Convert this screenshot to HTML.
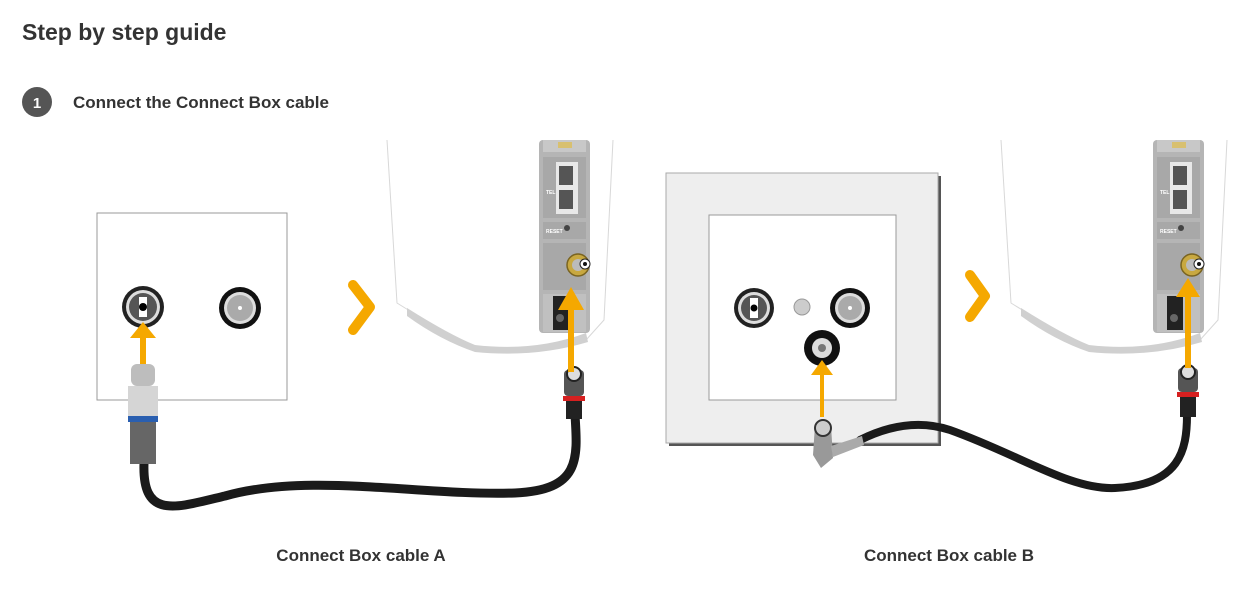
<!DOCTYPE html>
<html><head><meta charset="utf-8"><style>
html,body{margin:0;padding:0;background:#fff;width:1252px;height:593px;overflow:hidden}
svg{display:block}
</style></head><body>
<svg width="1252" height="593" viewBox="0 0 1252 593" xmlns="http://www.w3.org/2000/svg" font-family="Liberation Sans, sans-serif">
<defs>
<g id="router">
  <path d="M387 140 L397 303 Q440 330 480 350 Q535 352 586 340 L604 320 L613 140" fill="#fff" stroke="#d8d8d8" stroke-width="1"/>
  <path d="M407 308 Q450 335 475 345 Q535 352 586 333 L588 342 Q535 358 475 352 Q440 340 407 316 Z" fill="#d0d0d0"/>
  <rect x="539" y="140" width="51" height="193" rx="4" fill="#b5b5b5"/>
  <rect x="543" y="140" width="43" height="12" fill="#c8c8c8"/>
  <rect x="558" y="142" width="14" height="6" fill="#d8c070"/>
  <rect x="543" y="157" width="43" height="61" fill="#a8a8a8"/>
  <text x="546" y="194" font-size="5" fill="#fff" font-weight="bold">TEL</text>
  <rect x="556" y="162" width="22" height="52" fill="#e8e8e8"/>
  <rect x="559" y="166" width="14" height="19" fill="#555"/>
  <rect x="559" y="190" width="14" height="19" fill="#555"/>
  <rect x="543" y="222" width="43" height="17" fill="#a8a8a8"/>
  <text x="546" y="233" font-size="5" fill="#fff" font-weight="bold">RESET</text>
  <circle cx="567" cy="228" r="3" fill="#444"/>
  <rect x="543" y="243" width="43" height="47" fill="#a8a8a8"/>
  <circle cx="578" cy="265" r="11" fill="#c8a840" stroke="#7a6420" stroke-width="1.5"/>
  <circle cx="578" cy="265" r="6" fill="#bbb"/>
  <circle cx="585" cy="264" r="5" fill="#fff" stroke="#222" stroke-width="1"/>
  <circle cx="585" cy="264" r="2" fill="#111"/>
  <rect x="543" y="294" width="43" height="38" fill="#c0c0c0"/>
  <rect x="553" y="296" width="16" height="34" fill="#222"/>
  <circle cx="560" cy="318" r="4" fill="#666"/>
</g>
</defs>

<text x="22" y="40" font-size="23" font-weight="bold" fill="#333">Step by step guide</text>
<circle cx="37" cy="102" r="15" fill="#555"/>
<text x="37" y="108" font-size="15" font-weight="bold" fill="#fff" text-anchor="middle">1</text>
<text x="73" y="108" font-size="17" font-weight="bold" fill="#333">Connect the Connect Box cable</text>

<!-- LEFT -->
<rect x="97" y="213" width="190" height="187" fill="#fff" stroke="#999" stroke-width="1"/>
<circle cx="143" cy="307" r="21" fill="#222"/><circle cx="143" cy="307" r="17" fill="#ddd"/><circle cx="143" cy="307" r="14" fill="#555"/>
<rect x="139" y="297" width="8" height="20" fill="#fff"/><circle cx="143" cy="307" r="4" fill="#000"/>
<circle cx="240" cy="308" r="21" fill="#111"/><circle cx="240" cy="308" r="16" fill="#ddd"/><circle cx="240" cy="308" r="13" fill="#aaa"/><circle cx="240" cy="308" r="2" fill="#fff"/>
<path d="M144 463 C142 520 175 508 225 496 C310 472 420 496 515 493 C580 490 578 460 575 415" fill="none" stroke="#1a1a1a" stroke-width="9" stroke-linecap="round"/>
<rect x="131" y="364" width="24" height="22" rx="6" fill="#bdbdbd"/>
<rect x="128" y="386" width="30" height="30" fill="#d5d5d5"/>
<rect x="128" y="416" width="30" height="6" fill="#2a5fb0"/>
<rect x="130" y="422" width="26" height="42" fill="#666"/>
<path d="M140 364 L140 338 L130 338 L143 322 L156 338 L146 338 L146 364 Z" fill="#f5a800"/>
<use href="#router"/>
<rect x="564" y="370" width="20" height="26" rx="4" fill="#555"/>
<circle cx="574" cy="374" r="7" fill="#ddd" stroke="#222" stroke-width="2"/>
<rect x="563" y="396" width="22" height="5" fill="#d62020"/>
<rect x="566" y="401" width="16" height="18" fill="#222"/>
<path d="M568 372 L568 310 L558 310 L571 287 L584 310 L574 310 L574 372 Z" fill="#f5a800"/>
<path d="M353 285 L370 307 L353 330" fill="none" stroke="#f5a800" stroke-width="10" stroke-linecap="round" stroke-linejoin="round"/>

<!-- RIGHT -->
<rect x="669" y="176" width="272" height="270" fill="#555"/>
<rect x="666" y="173" width="272" height="270" fill="#eee" stroke="#aaa" stroke-width="1"/>
<rect x="709" y="215" width="187" height="185" fill="#fff" stroke="#999" stroke-width="1"/>
<circle cx="754" cy="308" r="20" fill="#222"/><circle cx="754" cy="308" r="16" fill="#ddd"/><circle cx="754" cy="308" r="13" fill="#555"/>
<rect x="750" y="298" width="8" height="20" fill="#fff"/><circle cx="754" cy="308" r="3.5" fill="#000"/>
<circle cx="802" cy="307" r="8" fill="#ccc" stroke="#999"/>
<circle cx="850" cy="308" r="20" fill="#111"/><circle cx="850" cy="308" r="15" fill="#ddd"/><circle cx="850" cy="308" r="12" fill="#aaa"/><circle cx="850" cy="308" r="2" fill="#fff"/>
<circle cx="822" cy="348" r="18" fill="#111"/><circle cx="822" cy="348" r="10" fill="#ddd"/><circle cx="822" cy="348" r="4" fill="#777"/>
<path d="M860 440 C890 425 920 420 950 430 C1020 455 1070 490 1115 488 C1180 485 1187 450 1187 415" fill="none" stroke="#1a1a1a" stroke-width="8" stroke-linecap="round"/>
<path d="M815 425 L831 425 L833 458 L821 468 L813 455 Z" fill="#999"/>
<path d="M831 446 L862 436 L864 445 L833 457 Z" fill="#aaa"/>
<circle cx="823" cy="428" r="8" fill="#ccc" stroke="#333" stroke-width="2"/>
<path d="M820 417 L820 375 L811 375 L822 360 L833 375 L824 375 L824 417 Z" fill="#f5a800"/>
<use href="#router" transform="translate(614,0)"/>
<rect x="1178" y="368" width="20" height="24" rx="4" fill="#555"/>
<circle cx="1188" cy="372" r="7" fill="#ddd" stroke="#222" stroke-width="2"/>
<rect x="1177" y="392" width="22" height="5" fill="#d62020"/>
<rect x="1180" y="397" width="16" height="20" fill="#222"/>
<path d="M1185 368 L1185 297 L1176 297 L1188 278 L1200 297 L1191 297 L1191 368 Z" fill="#f5a800"/>
<path d="M970 275 L985 296 L970 317" fill="none" stroke="#f5a800" stroke-width="10" stroke-linecap="round" stroke-linejoin="round"/>

<text x="361" y="561" font-size="17" font-weight="bold" fill="#333" text-anchor="middle">Connect Box cable A</text>
<text x="949" y="561" font-size="17" font-weight="bold" fill="#333" text-anchor="middle">Connect Box cable B</text>
</svg>
</body></html>
